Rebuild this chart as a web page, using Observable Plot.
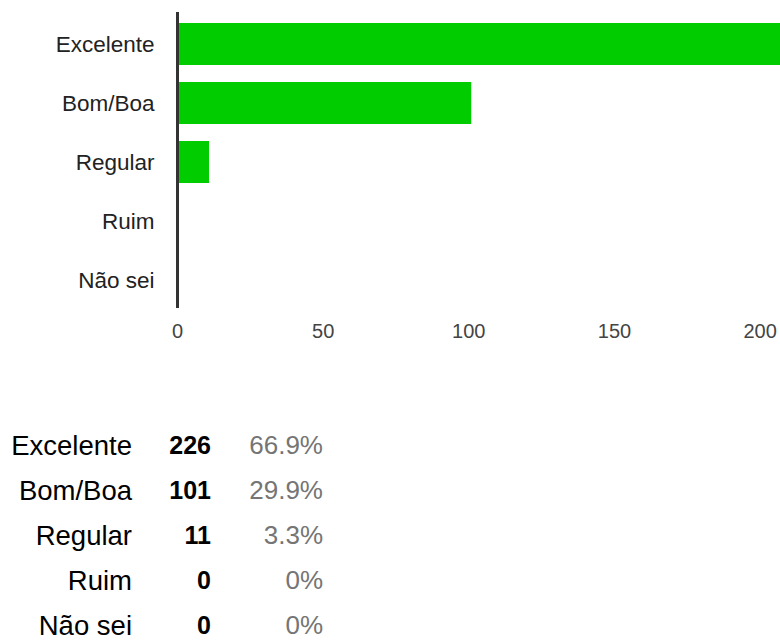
<!DOCTYPE html>
<html>
<head>
<meta charset="utf-8">
<script src="https://cdn.jsdelivr.net/npm/d3@7"></script>
<script src="https://cdn.jsdelivr.net/npm/@observablehq/plot@0.6"></script>
<style>
  html, body { margin: 0; padding: 0; background: #fff; overflow: hidden; }
  body { width: 780px; height: 640px; font-family: "Liberation Sans", Arial, sans-serif; }
  #chart svg { display: block; }
  #table { margin-top: 63px; display: grid; grid-template-columns: 132px 79px 112px; grid-auto-rows: 45px; font-size: 26px; }
  #table div { text-align: right; line-height: 45px; white-space: nowrap; }
  .lab { color: #000; font-size: 27.5px; }
  .cnt { color: #000; font-weight: bold; font-size: 25px; }
  .pct { color: #757575; }
</style>
</head>
<body>
<div id="chart"></div>
<div id="table"></div>
<script>
const categories = ["Excelente", "Bom/Boa", "Regular", "Ruim", "Não sei"];
const counts = [226, 101, 11, 0, 0];
const percents = ["66.9%", "29.9%", "3.3%", "0%", "0%"];
const xTicks = [0, 50, 100, 150, 200];

const data = categories.map((c, i) => ({category: c, count: counts[i]}));

const chart = Plot.plot({
  width: 780,
  height: 360,
  marginLeft: 177,
  marginRight: 0,
  marginTop: 14,
  marginBottom: 50,
  style: {fontFamily: "'Liberation Sans', Arial, sans-serif", fontSize: "20px", color: "#333"},
  x: {domain: [0, 207], ticks: xTicks},
  y: {domain: categories, paddingInner: 0.29, paddingOuter: 0.145},
  marks: [
    Plot.barX(data, {x: "count", y: "category", fill: "#00cc00", clip: true}),
    Plot.axisY({tickSize: 0, tickPadding: 23, label: null, fontSize: 22.5, fill: "#222"}),
    Plot.axisX({ticks: xTicks, tickSize: 0, tickPadding: 13, label: null, fontSize: 20, fill: "#444"}),
    Plot.ruleX([0], {stroke: "#333", strokeWidth: 3, insetTop: -2, insetBottom: 2})
  ]
});
document.getElementById("chart").appendChild(chart);

const table = document.getElementById("table");
categories.forEach((c, i) => {
  const a = document.createElement("div"); a.className = "lab"; a.textContent = c;
  const b = document.createElement("div"); b.className = "cnt"; b.textContent = counts[i];
  const p = document.createElement("div"); p.className = "pct"; p.textContent = percents[i];
  table.append(a, b, p);
});
</script>
</body>
</html>
